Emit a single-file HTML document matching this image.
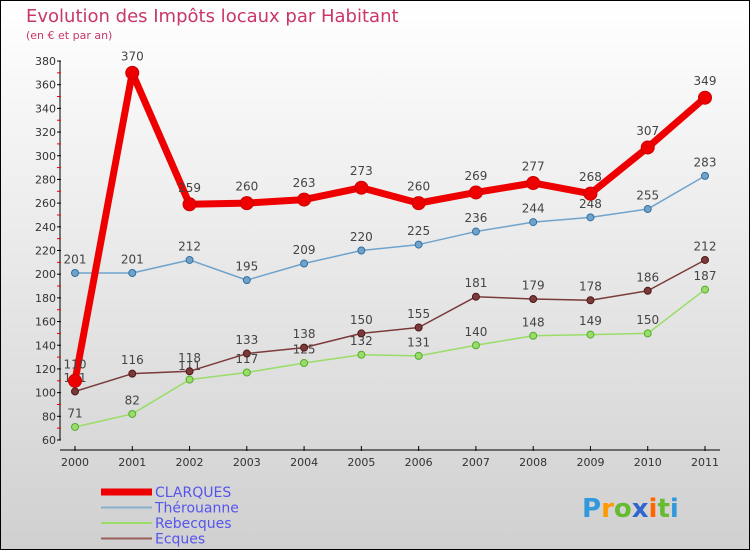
<!DOCTYPE html>
<html><head><meta charset="utf-8"><style>
body{margin:0}
#c{width:750px;height:550px;position:relative;overflow:hidden;background:linear-gradient(#ffffff,#d0d0d0);box-sizing:border-box;border:1px solid #000;font-family:"DejaVu Sans","Liberation Sans",sans-serif}
</style></head><body>
<div id="c">
<svg id="s" width="750" height="550" style="position:absolute;left:-1px;top:-1px"></svg>
</div>
<script>
const years=["2000","2001","2002","2003","2004","2005","2006","2007","2008","2009","2010","2011"];
const clarques=[110,370,259,260,263,273,260,269,277,268,307,349];
const therouanne=[201,201,212,195,209,220,225,236,244,248,255,283];
const rebecques=[71,82,111,117,125,132,131,140,148,149,150,187];
const ecques=[101,116,118,133,138,150,155,181,179,178,186,212];
const yTicks=[60,80,100,120,140,160,180,200,220,240,260,280,300,320,340,360,380];
const NS="http://www.w3.org/2000/svg";
const s=document.getElementById('s');
function X(i){return 75+i*(630/11);}
function Y(v){return 440-(v-60)*(379/320);}
function el(t,a,p){const e=document.createElementNS(NS,t);for(const k in a)e.setAttribute(k,a[k]);(p||s).appendChild(e);return e;}
function tx(x,y,str,a){const e=el('text',Object.assign({x:x,y:y},a));e.textContent=str;return e;}
let t=tx(26,22,"Evolution des Impôts locaux par Habitant",{fill:"#c8366b","font-size":"18"});

t=tx(26,39,"(en € et par an)",{fill:"#c8366b","font-size":"11"});

// axes
let a=el('line',{x1:60,y1:Y(380),x2:60,y2:440,stroke:"#000","stroke-width":1});

a=el('line',{x1:60,y1:450,x2:720,y2:450,stroke:"#000","stroke-width":1});

yTicks.forEach((v,i)=>{
 el('line',{x1:57,y1:Y(v),x2:61,y2:Y(v),stroke:"#000"});
 if(i<yTicks.length-1)el('line',{x1:57,y1:Y(v+10),x2:61,y2:Y(v+10),stroke:"#e00"});
 const l=tx(56,Y(v)+4,String(v),{"text-anchor":"end","font-size":"11",fill:"#333"});
 
});
years.forEach((y,i)=>{
 el('line',{x1:X(i),y1:446,x2:X(i),y2:451,stroke:"#000"});
 const l=tx(X(i),466,y,{"text-anchor":"middle","font-size":"11",fill:"#333"});
 
});
function series(d,col,w,r,dark,name){
 const g=el('g',{});
 
 el('polyline',{points:d.map((v,i)=>X(i)+","+Y(v)).join(" "),fill:"none",stroke:col,"stroke-width":w,"stroke-linejoin":"round"},g);
 d.forEach((v,i)=>{
  const c=el('circle',{cx:X(i),cy:Y(v),r:r,fill:col,stroke:dark,"stroke-width":1},g);
  
  const l=tx(X(i),Y(v)-(r+6),String(v),{"text-anchor":"middle","font-size":"12",fill:"#444"},g);
  
 });
}
series(rebecques,"#99dd66",1.5,3.5,"#55aa33","rebecques");
series(ecques,"#7a3a3a",1.5,3.5,"#501818","ecques");
series(therouanne,"#6fa3cc",1.5,3.5,"#3370a0","therouanne");
series(clarques,"#ee0000",7,6.5,"#cc0000","clarques");
// legend
const leg=[["CLARQUES","#ee0000",7],["Thérouanne","#88b0cc",2],["Rebecques","#99dd66",2],["Ecques","#9a6060",2]];
leg.forEach((e,i)=>{
 const y=492+i*15.5;
 const g=el('g',{});
 
 el('line',{x1:101,y1:y,x2:152,y2:y,stroke:e[1],"stroke-width":e[2]},g);
 tx(155,y+5,e[0],{"font-size":"14",fill:"#5555ee"},g);
});
const p=el('text',{x:582,y:517,"font-size":"26","font-weight":"bold"});

[["P","#3399dd"],["r","#ff9900"],["o","#66bb33"],["x","#3366cc"],["i","#ff6600"],["t","#66bb33"],["i","#3399dd"]].forEach(c=>{const ts=el('tspan',{fill:c[1]},p);ts.textContent=c[0];});
</script>
</body></html>
